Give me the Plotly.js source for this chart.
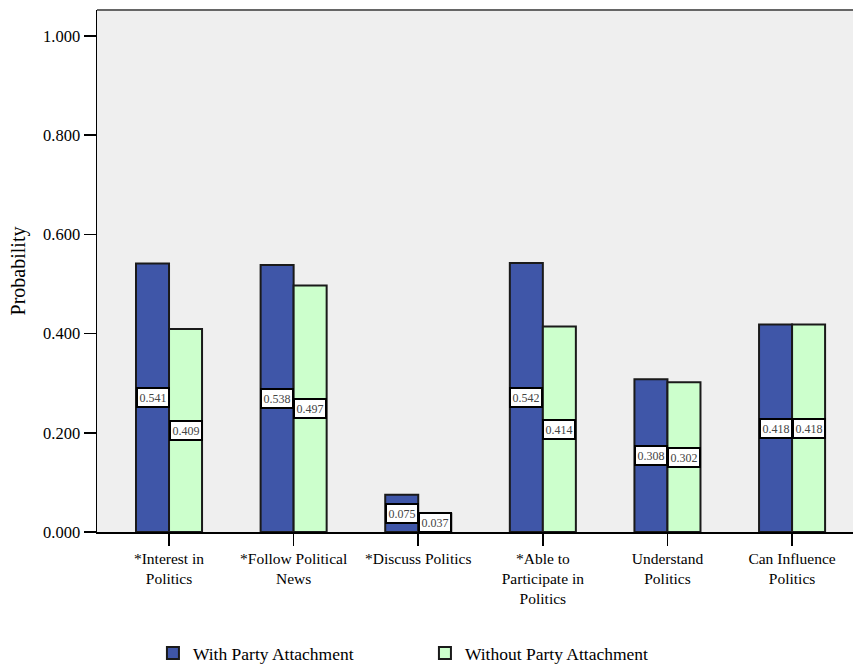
<!DOCTYPE html>
<html>
<head>
<meta charset="utf-8">
<script src="https://cdn.plot.ly/plotly-3.0.1.min.js"></script>
<style>html,body{margin:0;padding:0;background:#fff;}#chart{width:853px;height:671px;}</style>
</head>
<body>
<div id="chart"></div>
<script>
const categories = ["*Interest in<br>Politics", "*Follow Political<br>News", "*Discuss Politics", "*Able to<br>Participate in<br>Politics", "Understand<br>Politics", "Can Influence<br>Politics"];
const withParty = [0.541, 0.538, 0.075, 0.542, 0.308, 0.418];
const withoutParty = [0.409, 0.497, 0.037, 0.414, 0.302, 0.418];
const yTicks = [0, 0.2, 0.4, 0.6, 0.8, 1.0];

const FONT = "'Liberation Serif', 'Times New Roman', serif";
const barLine = {color: "#1a1a1a", width: 2};

const traces = [
  {type: "bar", name: "With Party Attachment", x: categories, y: withParty,
   marker: {color: "#3f56a8", line: barLine}, hoverinfo: "none"},
  {type: "bar", name: "Without Party Attachment", x: categories, y: withoutParty,
   marker: {color: "#ccffcc", line: barLine}, hoverinfo: "none"}
];

const annotations = [];
function addLabels(vals, shift) {
  vals.forEach((v, i) => {
    annotations.push({
      x: categories[i], y: v / 2, xref: "x", yref: "y", xshift: shift,
      text: v.toFixed(3), showarrow: false,
      font: {family: FONT, size: 12, color: "#444"},
      bgcolor: "#ffffff", bordercolor: "#000000", borderwidth: 2, borderpad: 1.5
    });
  });
}
addLabels(withParty, -16.5);
addLabels(withoutParty, 16.5);

const layout = {
  width: 853, height: 671,
  margin: {l: 97, r: 0, t: 10, b: 136},
  paper_bgcolor: "#ffffff", plot_bgcolor: "#efefef",
  font: {family: FONT, color: "#000"},
  barmode: "group", bargap: 0.47, bargroupgap: 0,
  showlegend: true,
  legend: {orientation: "h", x: 0.074, xanchor: "left", y: -0.232, yanchor: "middle",
           font: {family: FONT, size: 17.5, color: "#000"},
           entrywidth: 227, entrywidthmode: "pixels", traceorder: "normal"},
  xaxis: {type: "category", range: [-0.578, 5.489], showline: true, linecolor: "#000", linewidth: 1.5,
          ticks: "outside", ticklen: 12, tickwidth: 1.5, tickcolor: "#000",
          tickfont: {family: FONT, size: 15.5, color: "#000"}, showgrid: false, zeroline: false, fixedrange: true},
  yaxis: {range: [0, 1.052], tickvals: yTicks, tickformat: ".3f",
          showline: true, linecolor: "#000", linewidth: 1.5,
          ticks: "outside", ticklen: 12, tickwidth: 1.5, tickcolor: "#000",
          tickfont: {family: FONT, size: 16.5, color: "#000"}, showgrid: false, zeroline: false,
          title: {text: "Probability", font: {family: FONT, size: 20, color: "#000"}, standoff: 12}},
  shapes: [{type: "line", xref: "paper", yref: "paper", x0: 0, x1: 1, y0: 1, y1: 1,
            line: {color: "#666", width: 2}}],
  annotations: annotations
};

Plotly.newPlot("chart", traces, layout, {displayModeBar: false, staticPlot: true});
</script>
</body>
</html>
